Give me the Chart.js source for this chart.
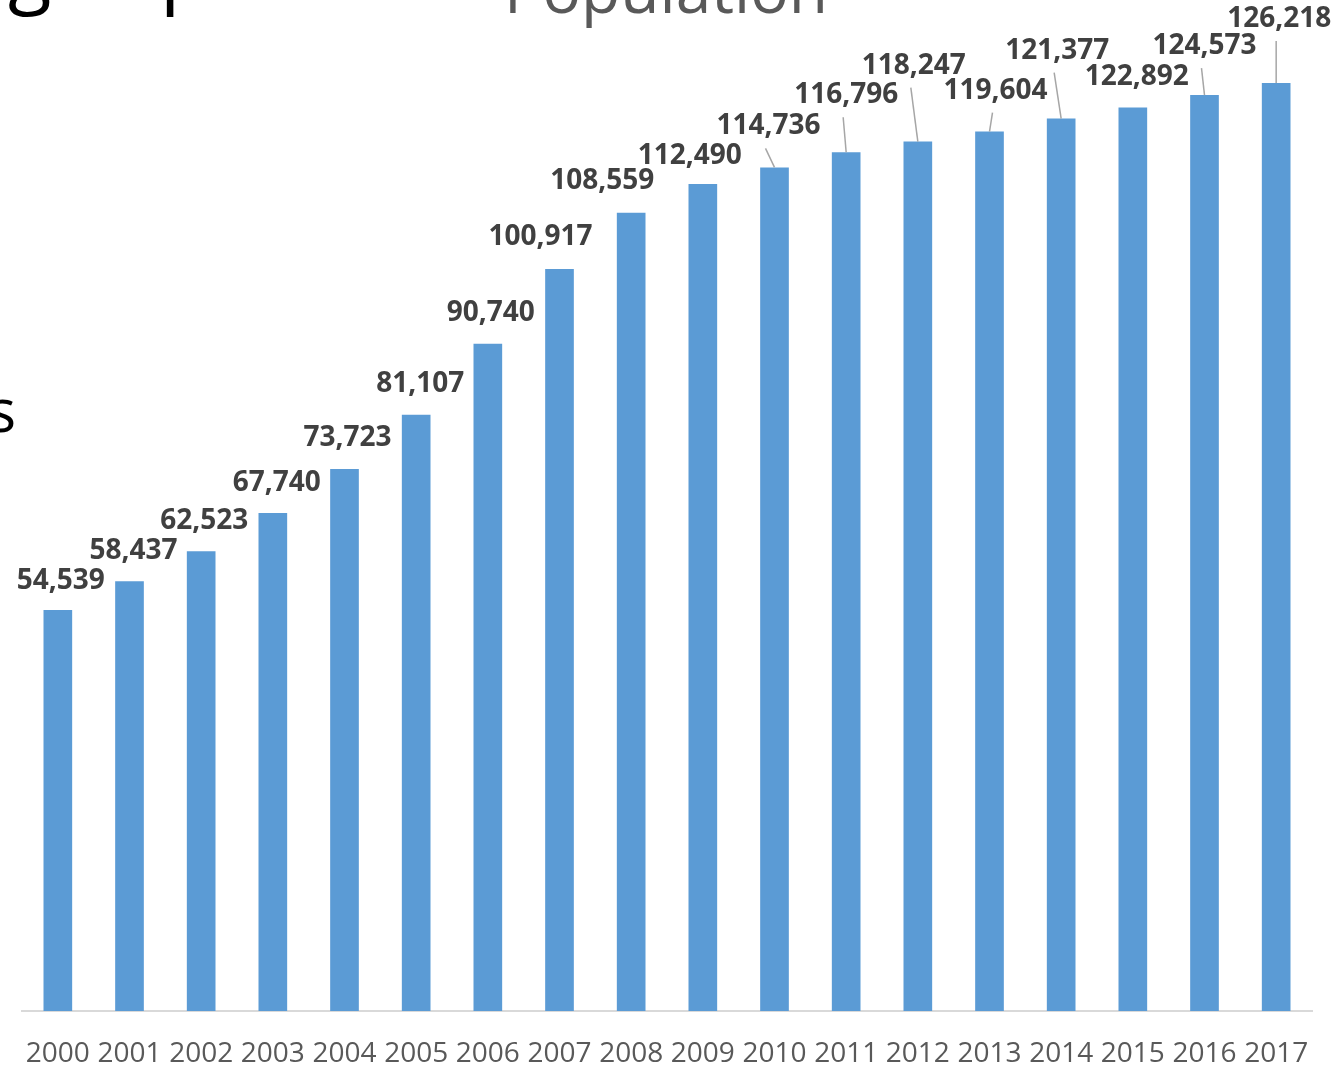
<!DOCTYPE html>
<html>
<head>
<meta charset="utf-8">
<script src="https://cdn.jsdelivr.net/npm/chart.js@4/dist/chart.umd.min.js"></script>
<style>
  html, body { margin: 0; padding: 0; background: #fff; overflow: hidden; }
  #wrap { width: 1332px; height: 1065px; }
</style>
</head>
<body>
<div id="wrap"><canvas id="population" width="1332" height="1065"></canvas></div>
<script>
const years = ['2000', '2001', '2002', '2003', '2004', '2005', '2006', '2007', '2008',
  '2009', '2010', '2011', '2012', '2013', '2014', '2015', '2016', '2017'];
const population = [54539, 58437, 62523, 67740, 73723, 81107, 90740, 100917, 108559,
  112490, 114736, 116796, 118247, 119604, 121377, 122892, 124573, 126218];

// where each value label sits, relative to the top of its bar (px)
const labelShift = [[3, -29], [4, -30], [3, -30], [4, -30], [3, -31], [4, -31], [3, -31],
  [-19, -32], [-29, -32], [-13, -28], [-6, -41], [0, -57], [-4, -76], [6, -41],
  [-4, -68], [4, -30], [0, -49], [3, -64]];

const fmt = new Intl.NumberFormat('en-US');

// value labels + leader lines, drawn like the spreadsheet did
const valueLabels = {
  id: 'valueLabels',
  afterDatasetsDraw(chart) {
    const c = chart.ctx;
    const bars = chart.getDatasetMeta(0).data;
    c.save();
    bars.forEach(function (bar, i) {
      const lx = bar.x + labelShift[i][0];
      const ly = bar.y + labelShift[i][1];
      if (labelShift[i][1] < -35) {
        c.strokeStyle = '#a6a6a6';
        c.lineWidth = 1.5;
        c.beginPath();
        c.moveTo(lx - 3, ly + 22);
        c.lineTo(bar.x, bar.y);
        c.stroke();
      }
      c.font = 'bold 28px "Open Sans"';
      c.fillStyle = '#404040';
      c.textAlign = 'center';
      c.textBaseline = 'middle';
      c.fillText(fmt.format(population[i]), lx, ly);
    });
    c.restore();
  }
};

// bits of the slide that show round the chart
const slideText = {
  id: 'slideText',
  afterDraw(chart) {
    const c = chart.ctx;
    c.save();
    c.textBaseline = 'alphabetic';
    c.fillStyle = '#595959';
    c.textAlign = 'center';
    c.font = '64px "Open Sans"';
    c.fillText('Population', 666, 13);
    c.fillStyle = '#000';
    c.textAlign = 'left';
    c.font = '80px "Open Sans"';
    c.fillText('g', 8, -2);
    c.fillText('p', 160, -2);
    c.textAlign = 'right';
    c.font = '60px "Open Sans"';
    c.fillText('s', 16, 432);
    c.restore();
  }
};

const ctx = document.getElementById('population').getContext('2d');
const chart = new Chart(ctx, {
  type: 'bar',
  plugins: [valueLabels, slideText],
  data: {
    labels: years,
    datasets: [{
      label: 'Population',
      data: population,
      backgroundColor: '#5b9bd5',
      borderWidth: 0,
      categoryPercentage: 1,
      barPercentage: 0.4
    }]
  },
  options: {
    responsive: false,
    animation: false,
    devicePixelRatio: 1,
    layout: { padding: { left: 22, right: 20, top: 0, bottom: -32 } },
    plugins: {
      legend: { display: false },
      title: { display: false },
      tooltip: { enabled: false }
    },
    scales: {
      x: {
        afterFit: function (scale) {
          // let the end labels hang past the plot edges
          scale.paddingLeft = 0;
          scale.paddingRight = 0;
        },
        grid: { display: false, drawTicks: false },
        border: { display: true, color: '#d9d9d9', width: 2 },
        ticks: {
          autoSkip: false,
          maxRotation: 0,
          padding: 29,
          color: '#595959',
          font: { family: '"Open Sans"', size: 28, lineHeight: 1 }
        }
      },
      y: {
        display: false,
        min: 0,
        max: 137500
      }
    }
  }
});
</script>
</body>
</html>
